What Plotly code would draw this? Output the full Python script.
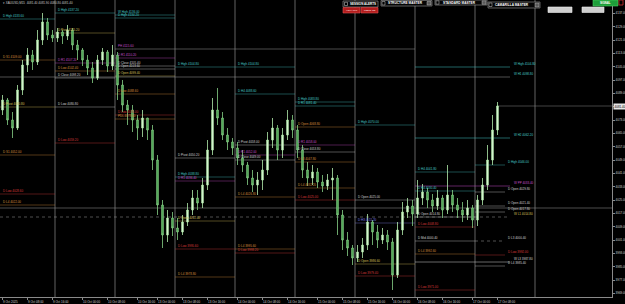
import plotly.graph_objects as go

# ---------------- data ----------------
first_open = 4079.0
bar_close = [4085.0, 4073.0, 4068.2, 4091.0, 4106.0, 4112.0, 4107.8, 4121.0, 4131.8, 4124.0,
             4122.2, 4125.8, 4123.4, 4127.0, 4118.0, 4115.0, 4109.0, 4104.2, 4098.2, 4109.0,
             4113.8, 4105.4, 4112.0, 4094.0, 4082.0, 4079.0, 4073.0, 4068.2, 4074.2, 4067.0,
             4049.0, 4022.0, 4004.0, 4014.2, 4008.2, 4005.8, 4011.8, 4019.0, 4026.2, 4023.2,
             4034.0, 4055.0, 4079.0, 4074.2, 4064.0, 4059.8, 4056.2, 4050.2, 4046.0, 4038.2,
             4034.0, 4037.0, 4043.0, 4061.0, 4068.2, 4055.0, 4064.0, 4073.0, 4067.0, 4055.0,
             4043.0, 4038.2, 4041.8, 4035.8, 4033.4, 4037.0, 4038.2, 4016.0, 4001.0, 3996.2,
             3990.2, 3993.8, 3998.0, 4011.8, 4005.8, 4001.0, 4004.0, 3999.8, 3980.0, 4007.0,
             4017.8, 4021.4, 4016.6, 4026.2, 4029.8, 4025.0, 4021.4, 4026.2, 4019.0, 4028.0,
             4022.0, 4019.0, 4016.0, 4020.2, 4013.0, 4025.0, 4034.0, 4049.0, 4067.0, 4081.4]
bar_high = [4088.0, 4086.2, 4077.8, 4094.0, 4109.0, 4116.2, 4115.0, 4127.0, 4137.2, 4134.2,
            4127.0, 4128.2, 4127.0, 4130.0, 4128.2, 4121.0, 4116.2, 4112.0, 4107.8, 4112.0,
            4116.2, 4115.0, 4118.0, 4113.8, 4097.0, 4085.0, 4082.0, 4076.0, 4079.0, 4074.2,
            4070.0, 4052.0, 4025.0, 4019.0, 4017.8, 4014.2, 4016.0, 4023.2, 4031.0, 4031.0,
            4038.2, 4061.0, 4086.2, 4092.2, 4077.8, 4068.2, 4062.2, 4059.8, 4055.0, 4047.8,
            4043.0, 4041.8, 4049.0, 4065.8, 4074.2, 4070.0, 4068.2, 4079.0, 4076.0, 4070.0,
            4058.0, 4047.8, 4046.0, 4044.2, 4040.0, 4040.6, 4044.2, 4040.0, 4019.0, 4005.8,
            3998.0, 3998.0, 4002.2, 4016.6, 4013.0, 4010.0, 4008.2, 4007.0, 4002.2, 4011.8,
            4023.8, 4026.2, 4025.0, 4037.0, 4034.6, 4032.2, 4028.6, 4031.0, 4028.0, 4046.0,
            4031.0, 4026.2, 4023.8, 4025.0, 4022.0, 4028.0, 4038.2, 4058.0, 4076.0, 4083.8]
bar_low = [4076.0, 4070.0, 4062.2, 4067.0, 4088.0, 4101.8, 4103.0, 4106.0, 4118.0, 4121.0,
           4119.8, 4119.8, 4118.6, 4121.0, 4115.0, 4109.0, 4105.4, 4100.0, 4095.2, 4097.0,
           4106.0, 4101.8, 4103.0, 4085.0, 4077.8, 4070.0, 4065.8, 4061.0, 4062.8, 4061.0,
           4043.0, 4016.0, 3996.2, 3999.8, 4003.4, 4001.0, 4004.0, 4009.4, 4016.0, 4019.0,
           4020.2, 4031.0, 4052.0, 4070.0, 4061.0, 4055.0, 4052.0, 4046.0, 4041.8, 4034.0,
           4029.8, 4028.0, 4031.0, 4040.0, 4056.2, 4049.0, 4050.2, 4061.0, 4062.2, 4050.2,
           4038.2, 4033.4, 4034.0, 4032.2, 4029.8, 4031.0, 4025.0, 4004.0, 3995.0, 3991.4,
           3986.0, 3987.8, 3990.2, 3995.0, 3998.0, 3996.2, 3998.6, 3995.0, 3971.0, 3978.2,
           4004.0, 4014.2, 4009.4, 4014.2, 4022.0, 4020.2, 4017.8, 4019.0, 4014.2, 4016.6,
           4017.8, 4014.2, 4011.8, 4013.0, 4008.2, 4009.4, 4022.0, 4031.0, 4046.0, 4064.0]

x_tick_bars = [0, 5, 10, 16, 21, 27, 31, 36, 41, 47, 52, 57, 63, 68, 73, 78, 83, 88, 94, 99]
x_tick_labels = ["9 Oct 2025", "9 Oct 08:00", "9 Oct 16:00", "10 Oct 00:00", "10 Oct 08:00",
                 "10 Oct 16:00", "13 Oct 00:00", "13 Oct 08:00", "13 Oct 16:00", "14 Oct 00:00",
                 "14 Oct 08:00", "14 Oct 16:00", "15 Oct 00:00", "15 Oct 08:00", "15 Oct 16:00",
                 "16 Oct 00:00", "16 Oct 08:00", "16 Oct 16:00", "17 Oct 00:00", "17 Oct 08:00"]

# session boundaries (bar index)
session_bounds = [-0.5, 10.5, 22.5, 34.5, 46.5, 58.5, 70.5, 82.5, 94.5, 106.5]

# daily levels of past sessions: session number, price, name, kind
lvl_session = [0, 0, 0, 0, 0, 0,
               1, 1, 1, 1, 1, 1, 1,
               2, 2, 2, 2, 2, 2, 2, 2, 2,
               3, 3, 3, 3, 3, 3, 3,
               4, 4, 4, 4, 4, 4, 4, 4,
               5, 5, 5, 5, 5, 5, 5, 5,
               6, 6, 6, 6, 6,
               7, 7, 7, 7, 7, 7, 7]
lvl_price = [4133.6, 4109.0, 4080.8, 4052.0, 4028.6, 4022.0,
             4137.2, 4125.2, 4107.2, 4102.4, 4098.2, 4080.8, 4059.2,
             4136.0, 4134.2, 4110.2, 4105.4, 4103.6, 4099.4, 4088.6, 4076.0, 4073.6,
             4104.8, 4050.2, 4038.8, 4036.4, 4012.4, 3995.6, 3978.8,
             4104.8, 4088.6, 4058.0, 4052.0, 4049.0, 4026.8, 3995.6, 3993.2,
             4083.8, 4081.4, 4068.8, 4058.0, 4053.8, 4047.8, 4032.2, 4025.0,
             4070.0, 4025.0, 4011.2, 3986.6, 3979.4,
             4041.8, 4030.4, 4014.8, 4008.8, 4000.4, 3992.6, 3971.0]
lvl_name = ["D High", "D S1", "D Pivot", "D S1", "D Low", "D L4",
            "D High", "D Pivot", "D R1", "D Low", "D Close", "D Low", "D Low",
            "W High", "D High", "D R1", "D Close", "D Open", "D Open", "D Low", "D Low", "PDL",
            "D High", "D Pivot", "D High", "D R1", "D Open", "D Low", "D L4",
            "D High", "D H4", "D Pivot", "D R1", "D Close", "D L4", "D L4", "D Low",
            "D High", "D R1", "D Open", "D R1", "D Close", "D L3", "D L4", "D Low",
            "D High", "D Open", "D H3", "D Open", "D Low",
            "D H4", "D H4", "D Open", "D Low", "D Mid", "D L4", "D Low"]
lvl_kind = ["high", "sup", "pivot", "sup", "low", "sup",
            "high", "pivot", "res", "sup", "neutral", "neutral", "low",
            "high", "high", "res", "neutral", "neutral", "pivot", "sup", "low", "sup",
            "high", "neutral", "high", "res", "pivot", "low", "sup",
            "high", "high", "neutral", "res", "neutral", "sup", "sup", "low",
            "high", "high", "sup", "res", "neutral", "sup", "sup", "low",
            "high", "neutral", "blue", "pivot", "low",
            "high", "high", "neutral", "low", "neutral", "sup", "low"]

# current-day levels (labels on the right)
cur_price = [4046.0, 4029.8, 4021.4, 4017.8, 4000.4, 3992.0, 3985.4]
cur_name = ["D High", "D Open", "D Open", "D Open", "D L3", "D Low", "D L4"]
cur_kind = ["high", "neutral", "neutral", "neutral", "neutral", "low", "neutral"]

# weekly levels: start bar, price, name, kind
wk_start = [82.5, -0.5, 82.5, 82.5, -0.5, 82.5]
wk_price = [4104.8, 4098.8, 4062.2, 4033.4, 4014.8, 3987.8]
wk_name = ["W High", "W H1", "W H2", "W PP", "W L1", "W L3"]
wk_kind = ["high", "high", "high", "res", "pivot", "neutral"]

prev_high_price = 4115.6
day_open_price = 4020.2
symbol_text = "XAUUSD,M15  4081.40 4081.90 4080.80 4081.40"

# ---------------- styles ----------------
kind_color = {"high": "#46c8c8", "res": "#c64fc8", "pivot": "#d9c25a", "sup": "#d98f3c",
              "low": "#d93a3a", "neutral": "#d2d2d2", "blue": "#7f7fe8"}
FONT = "Liberation Sans"
LABEL_SIZE = 3
X_MAX = 121.9
CUR_END = 100.5
WK_END = 101.5

bar_open = [first_open] + bar_close[:-1]
n = len(bar_close)

fig = go.Figure()
fig.add_trace(go.Candlestick(
    x=list(range(n)), open=bar_open, high=bar_high, low=bar_low, close=bar_close,
    increasing=dict(line=dict(color="#b2ecac", width=0.8), fillcolor="#e4fbe0"),
    decreasing=dict(line=dict(color="#86d086", width=0.8), fillcolor="#3f9c48"),
    whiskerwidth=0, hoverinfo="skip", showlegend=False))

shapes = []
annotations = []

def add_label(x, y, text, color, xanchor="left", xshift=1):
    annotations.append(dict(x=x, y=y, xref="x", yref="y", text=text, showarrow=False,
                            xanchor=xanchor, yanchor="bottom", xshift=xshift, yshift=-1,
                            font=dict(size=LABEL_SIZE, color=color, family=FONT)))

def add_hline(x0, x1, y, color, dash="solid", opacity=0.55):
    shapes.append(dict(type="line", xref="x", yref="y", x0=x0, x1=x1, y0=y, y1=y,
                       line=dict(color=color, width=0.7, dash=dash), opacity=opacity, layer="below"))

# session separators
for b in session_bounds[1:]:
    shapes.append(dict(type="line", xref="x", yref="paper", x0=b, x1=b, y0=0, y1=1,
                       line=dict(color="#626262", width=1), layer="below"))

# reference lines
add_hline(session_bounds[2], session_bounds[7], prev_high_price, "#9a9a9a", opacity=0.7)
add_label(session_bounds[2], prev_high_price, "PH %.2f" % prev_high_price, kind_color["res"])
add_hline(-0.5, X_MAX, day_open_price, "#8a8a8a", opacity=0.8)
add_hline(n - 1, X_MAX, bar_close[-1], "#8a8a8a", opacity=0.7)

# daily levels
for s, p, nm, k in zip(lvl_session, lvl_price, lvl_name, lvl_kind):
    c = kind_color[k]
    add_hline(session_bounds[s], session_bounds[s + 1], p, c)
    add_label(session_bounds[s], p, "%s %.2f" % (nm, p), c)

# current day levels
for p, nm, k in zip(cur_price, cur_name, cur_kind):
    c = kind_color[k]
    add_hline(session_bounds[8], CUR_END, p, c, dash="dot" if nm == "D L3" else "solid")
    add_label(CUR_END, p, "%s %.2f" % (nm, p), c)

# weekly levels
for x0, p, nm, k in zip(wk_start, wk_price, wk_name, wk_kind):
    c = kind_color[k]
    add_hline(x0, WK_END, p, "#a0a0a0" if x0 < 0 else c, dash="dot" if nm == "W L1" else "solid",
              opacity=0.7)
    add_label(WK_END, p, "%s %.2f" % (nm, p), c, xshift=2)

# x axis labels (left aligned at the bar)
for b, t in zip(x_tick_bars, x_tick_labels):
    annotations.append(dict(x=b, y=0, xref="x", yref="paper", text=t, showarrow=False,
                            xanchor="left", yanchor="top", xshift=-2, yshift=-1,
                            font=dict(size=3, color="#d0d0d0", family=FONT)))

# current price tag
annotations.append(dict(x=1.0, y=bar_close[-1], xref="paper", yref="y", text="%.2f" % bar_close[-1],
                        showarrow=False, xanchor="left", yanchor="middle", xshift=1,
                        bgcolor="#e6e6e6", borderpad=0.6,
                        font=dict(size=3, color="#000000", family=FONT)))

# ---------------- header widgets (figure pixel helpers) ----------------
PW, PH_ = 612.0, 297.0
def px(x):
    return x / PW
def py(y):
    return (PH_ - y) / PH_

def box(x0, y0, x1, y1, fill, line="#9a9a9a", lw=0.6):
    shapes.append(dict(type="rect", xref="paper", yref="paper", x0=px(x0), x1=px(x1),
                       y0=py(y1), y1=py(y0), fillcolor=fill, line=dict(color=line, width=lw),
                       layer="above"))

def text(x, y, t, size, color="#ffffff", anchor="center", bold=False):
    annotations.append(dict(x=px(x), y=py(y), xref="paper", yref="paper",
                            text=("<b>%s</b>" % t) if bold else t, showarrow=False,
                            xanchor=anchor, yanchor="middle",
                            font=dict(size=size, color=color, family=FONT)))

text(1, 3, "▾ " + symbol_text, 3, "#c8c8c8", anchor="left")

box(343, 1, 378, 7, "#050505")
box(344.5, 2.3, 347.5, 5.5, "#000000", line="#dddddd", lw=0.5)
text(363, 4, "SESSION ALERTS", 3, bold=True)
box(343, 7.5, 360, 13, "#b31d1d", line="#e05050")
text(351.5, 10.3, "ASIA OFF", 2.5, "#ffd8d8", bold=True)
box(361, 7.5, 378, 13, "#b31d1d", line="#e05050")
text(369.5, 10.3, "LNDN ON", 2.5, "#ffd8d8", bold=True)

box(381, 0.5, 432, 6, "#050505")
box(382, 1.5, 385, 5, "#000000", line="#cccccc", lw=0.5)
text(405, 3.3, "STRUCTURE MASTER", 3.2, bold=True)
box(427, 1.5, 431, 5, "#5a5a5a", line="#bbbbbb", lw=0.5)

box(435, 0, 487, 5, "#050505")
box(436, 0.8, 439, 4.2, "#000000", line="#cccccc", lw=0.5)
text(459, 2.5, "STANDARD MASTER", 3.2, bold=True)
box(482, 0.8, 486, 4.3, "#5a5a5a", line="#bbbbbb", lw=0.5)

box(488, 2, 540, 8, "#050505")
box(489, 3, 492, 6.5, "#000000", line="#cccccc", lw=0.5)
text(512, 5, "CAMARILLA MASTER", 3.2, bold=True)
box(535, 3, 539, 7, "#5a5a5a", line="#bbbbbb", lw=0.5)

box(548, 7, 572, 12.5, "#cfcfcf", line="#eeeeee")
box(582, 7, 604, 12.5, "#cfcfcf", line="#eeeeee")
box(593, 0, 618, 6, "#1e9e3a", line="#45d060")
text(605.5, 3, "SIGNAL", 2.8, bold=True)
box(619, 0, 623, 5, "#000000", line="#d03030", lw=0.8)

fig.update_layout(
    width=625, height=304, margin=dict(l=0, r=13, t=0, b=7),
    paper_bgcolor="#000000", plot_bgcolor="#000000", showlegend=False,
    boxgap=0.55,
    xaxis=dict(range=[-0.5, X_MAX], showgrid=False, zeroline=False, showline=True,
               linecolor="#8a8a8a", linewidth=1, rangeslider=dict(visible=False),
               tickvals=x_tick_bars, showticklabels=False, ticks="outside", ticklen=2,
               tickcolor="#8a8a8a", fixedrange=True, automargin=False),
    yaxis=dict(side="right", range=[3966.8, 4145], tick0=4137, dtick=8, tickformat=".2f",
               ticks="outside", ticklen=2, tickcolor="#8a8a8a", showgrid=False, zeroline=False,
               showline=True, linecolor="#8a8a8a", linewidth=1, automargin=False,
               tickfont=dict(size=3, color="#d0d0d0", family=FONT), fixedrange=True),
    shapes=shapes, annotations=annotations,
)

fig.write_html("out.html")
